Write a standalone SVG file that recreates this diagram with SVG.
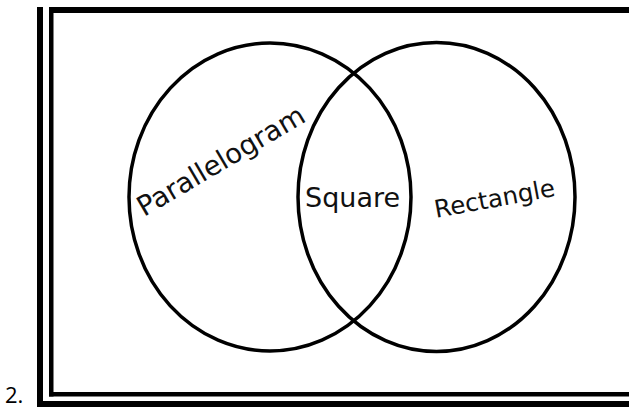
<svg xmlns="http://www.w3.org/2000/svg" width="629" height="408" viewBox="0 0 629 408">
<style>
.frame{fill:#000}
.set{fill:none;stroke:#000;stroke-width:3.5}
.lbl{font-family:"DejaVu Sans",sans-serif;fill:#111}
.num{font-family:"Open Sans","Noto Sans",sans-serif;font-size:22px;fill:#000}
</style>
<rect width="629" height="408" fill="#fff"/>
<g id="frame">
<rect class="frame" x="37" y="7" width="6" height="400"/>
<rect class="frame" x="37" y="401" width="592" height="6"/>
<rect class="frame" x="49" y="7" width="580" height="6"/>
<rect class="frame" x="49" y="7" width="4.5" height="389.5"/>
<rect class="frame" x="49" y="392" width="580" height="4.5"/>
</g>
<g id="parallelogram">
<ellipse class="set" cx="270" cy="197" rx="141" ry="154"/>
<text class="lbl" font-size="27.5" transform="translate(144,217) rotate(-30.5)">Parallelogram</text>
</g>
<g id="rectangle">
<ellipse class="set" cx="436.5" cy="197" rx="138.5" ry="154.5"/>
<text class="lbl" font-size="24.5" transform="translate(436,218) rotate(-10.5)">Rectangle</text>
</g>
<g id="square">
<text class="lbl" font-size="27" x="305" y="207">Square</text>
</g>
<text class="num" x="5" y="403">2.</text>
</svg>
